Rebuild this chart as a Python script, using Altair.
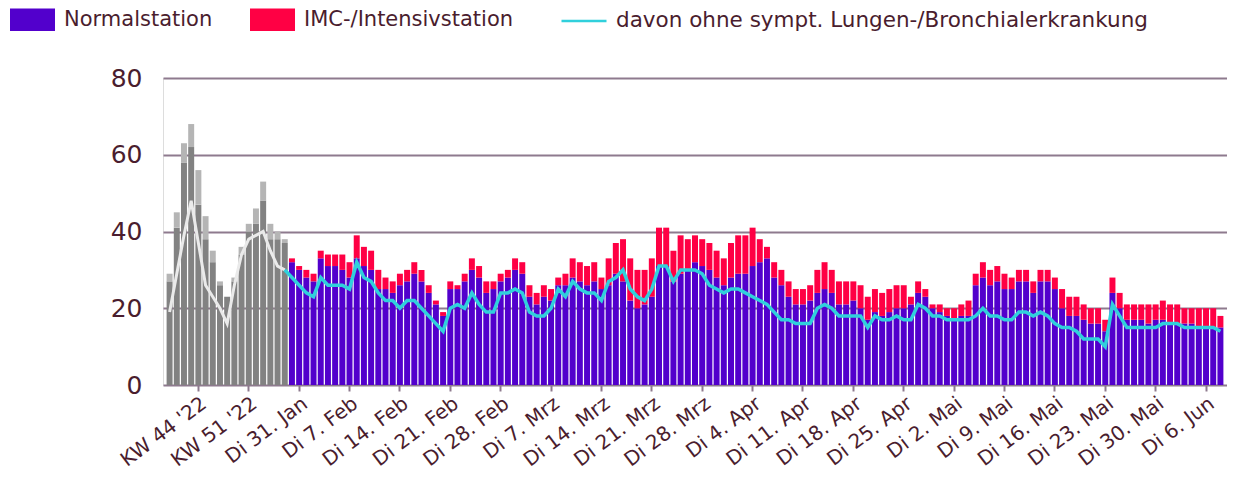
import json
import altair as alt
import pandas as pd

# ---- data ----
week_normal = [27, 41, 58, 62, 47, 38, 32, 26, 23, 27, 34, 40, 42, 48, 38, 38, 37]
week_imc = [2, 4, 5, 6, 9, 6, 3, 1, 0, 1, 2, 2, 4, 5, 4, 2, 1]
week_line = [19, 29, 39, 48, 37, 26, 23, 20, 16, 26, 34, 38, 39, 40, 35, 31, 30]

day_normal = [32, 30, 28, 27, 33, 31, 31, 30, 28, 33, 31, 30, 25, 25, 24, 26, 27, 29, 27, 24,
              21, 18, 25, 25, 27, 30, 28, 24, 25, 27, 28, 30, 29,
              23, 21, 23, 22, 26, 26, 28, 27, 26, 27, 25, 26, 29, 27, 22, 20, 21, 23, 31, 31,
              27, 29, 30, 32, 31, 30, 28, 26, 28, 29, 29, 31,
              32, 33, 28, 26, 23, 21, 21, 22, 24, 25, 24, 21, 21, 22, 20, 17, 19, 18, 19, 20,
              20, 21, 24, 23, 20, 19, 18, 17, 18, 18, 26, 28, 26,
              27, 25, 25, 27, 27, 24, 27, 27, 25, 20, 18, 18, 17, 16, 16, 14, 24, 20, 17, 17,
              17, 16, 17, 17, 16, 16, 16, 16, 15, 15, 15, 15]
day_imc = [1, 1, 2, 2, 2, 3, 3, 4, 4, 6, 5, 5, 5, 3, 3, 3, 3, 3, 3, 2,
           1, 1, 2, 1, 2, 3, 3, 3, 2, 2, 2, 3, 3,
           3, 3, 3, 3, 2, 3, 5, 5, 5, 5, 3, 7, 8, 11, 11, 10, 9, 10, 10, 10,
           8, 10, 8, 7, 7, 7, 7, 7, 9, 10, 10, 10,
           6, 3, 4, 4, 4, 4, 4, 4, 6, 7, 6, 6, 6, 5, 6, 6, 6, 6, 6, 6,
           6, 2, 3, 2, 1, 2, 2, 3, 3, 4, 3, 4, 4,
           4, 4, 3, 3, 3, 3, 3, 3, 3, 5, 5, 5, 4, 4, 4, 3, 4, 4, 4, 4,
           4, 5, 4, 5, 5, 5, 4, 4, 5, 5, 5, 3]
day_line = [28, 26, 24, 23, 28, 26, 26, 26, 25, 32, 28, 27, 24, 22, 22, 20, 22, 22, 20, 18,
            16, 14, 20, 21, 20, 24, 21, 19, 19, 24, 24, 25, 24,
            19, 18, 18, 20, 25, 23, 27, 25, 24, 24, 22, 27, 28, 30, 25, 23, 22, 25, 31, 31,
            27, 30, 30, 30, 29, 26, 25, 24, 25, 25, 24, 23,
            22, 21, 19, 17, 17, 16, 16, 16, 20, 21, 20, 18, 18, 18, 18, 15, 18, 17, 17, 18,
            17, 17, 21, 20, 18, 18, 17, 17, 17, 17, 18, 20, 18,
            18, 17, 17, 19, 19, 18, 19, 18, 16, 15, 15, 14, 12, 12, 12, 10, 21, 18, 15, 15,
            15, 15, 15, 16, 16, 16, 15, 15, 15, 15, 15, 14]

tick_pos = [4, 11, 18, 25, 32, 39, 46, 53, 60, 67, 74, 81, 88, 95, 102, 109, 116, 123, 130, 137, 144]
tick_labels = ["KW 44 '22", "KW 51 '22", "Di 31. Jan", "Di 7. Feb", "Di 14. Feb", "Di 21. Feb",
               "Di 28. Feb", "Di 7. Mrz", "Di 14. Mrz", "Di 21. Mrz", "Di 28. Mrz", "Di 4. Apr",
               "Di 11. Apr", "Di 18. Apr", "Di 25. Apr", "Di 2. Mai", "Di 9. Mai", "Di 16. Mai",
               "Di 23. Mai", "Di 30. Mai", "Di 6. Jun"]

N_LABEL = "Normalstation"
I_LABEL = "IMC-/Intensivstation"
L_LABEL = "davon ohne sympt. Lungen-/Bronchialerkrankung"

# ---- styles ----
PURPLE = "#5200CC"
RED = "#FF0044"
CYAN = "#30D0DC"
GREY_D = "#828282"
GREY_L = "#B5B5B5"
GREY_LINE = "#EAEAEA"
TEXT = "#4A1D2E"
GRID = "#8E7A8E"
FONT = "DejaVu Sans"

# ---- tables ----
nw = len(week_normal)
rows = []
for i in range(nw):
    rows.append({"idx": i, "cat": "w_normal", "value": week_normal[i], "ord": 0})
    rows.append({"idx": i, "cat": "w_imc", "value": week_imc[i], "ord": 1})
for j in range(len(day_normal)):
    rows.append({"idx": nw + j, "cat": N_LABEL, "value": day_normal[j], "ord": 0})
    rows.append({"idx": nw + j, "cat": I_LABEL, "value": day_imc[j], "ord": 1})
bars_df = pd.DataFrame(rows)

grey_line_df = pd.DataFrame({"idx": list(range(nw)), "value": week_line})
cyan_idx = [nw - 1] + [nw + j for j in range(len(day_line))]
cyan_vals = [week_line[-1]] + day_line
cyan_df = pd.DataFrame({"idx": cyan_idx, "value": cyan_vals, "series": [L_LABEL] * len(cyan_idx)})

label_expr = f"{json.dumps(tick_labels)}[indexof({json.dumps(tick_pos)}, datum.value)]"

x_enc = alt.X(
    "idx:O",
    scale=alt.Scale(paddingInner=0.17, paddingOuter=0.5),
    axis=alt.Axis(
        title=None,
        values=tick_pos,
        labelExpr=label_expr,
        labelAngle=-37,
        labelFontSize=20,
        labelColor=TEXT,
        labelFont=FONT,
        labelPadding=2,
        ticks=True,
        tickSize=6,
        tickWidth=2,
        tickColor=GRID,
        domain=False,
        grid=False,
    ),
)
y_scale = alt.Scale(domain=[0, 80], nice=False)
y_axis = alt.Axis(
    title=None,
    values=[0, 20, 40, 60, 80],
    labelFontSize=25,
    labelColor=TEXT,
    labelFont=FONT,
    labelPadding=21,
    ticks=False,
    domain=False,
    grid=True,
    gridColor=GRID,
    gridWidth=2,
)

bars = alt.Chart(bars_df).mark_bar().encode(
    x=x_enc,
    y=alt.Y("value:Q", stack="zero", scale=y_scale, axis=y_axis),
    fill=alt.Fill(
        "cat:N",
        scale=alt.Scale(domain=[N_LABEL, I_LABEL, "w_normal", "w_imc"],
                        range=[PURPLE, RED, GREY_D, GREY_L]),
        legend=alt.Legend(
            title=None,
            values=[N_LABEL, I_LABEL],
            orient="none",
            direction="horizontal",
            legendX=-153,
            legendY=-81,
            padding=0,
            symbolType="M-1,-0.5H1V0.5H-1Z",
            symbolSize=2025,
            symbolStrokeWidth=0,
            symbolOpacity=1,
            labelFontSize=21,
            labelColor=TEXT,
            labelFont=FONT,
            labelOffset=9,
            labelLimit=0,
            columnPadding=37,
        ),
    ),
    order=alt.Order("ord:Q"),
)

grey_line = alt.Chart(grey_line_df).mark_line(color=GREY_LINE, strokeWidth=3).encode(
    x=alt.X("idx:O"),
    y=alt.Y("value:Q"),
)

cyan_line = alt.Chart(cyan_df).mark_line(strokeWidth=3.5).encode(
    x=alt.X("idx:O"),
    y=alt.Y("value:Q"),
    stroke=alt.Stroke(
        "series:N",
        scale=alt.Scale(domain=[L_LABEL], range=[CYAN]),
        legend=alt.Legend(
            title=None,
            orient="none",
            direction="horizontal",
            legendX=397,
            legendY=-81,
            padding=0,
            symbolType="stroke",
            symbolSize=2025,
            symbolStrokeWidth=2.5,
            labelFontSize=21.5,
            labelColor=TEXT,
            labelFont=FONT,
            labelOffset=8,
            labelLimit=0,
        ),
    ),
)

chart = (
    alt.layer(bars, grey_line, cyan_line)
    .properties(
        width=1064,
        height=307,
        autosize=alt.AutoSizeParams(type="none"),
        padding={"left": 155, "top": 70, "right": 0, "bottom": 86},
    )
    .configure_view(stroke=None)
    .configure(font=FONT)
)

chart.save("out.html", embed_options={"renderer": "svg", "actions": False})
